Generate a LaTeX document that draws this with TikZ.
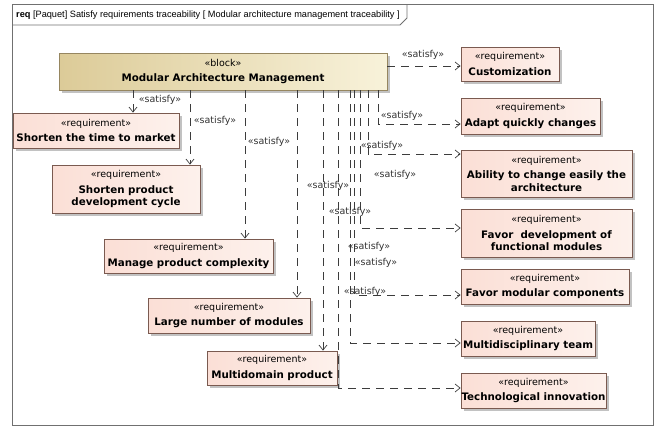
\documentclass[tikz,border=0pt]{standalone}
\usepackage{fontspec}
\setmainfont{DejaVu Sans}
\newfontfamily\titlefont{Liberation Sans}
\usetikzlibrary{arrows.meta,shadows}
\definecolor{reqL}{HTML}{FBDFD6}
\definecolor{reqR}{HTML}{FDF1EC}
\definecolor{reqB}{HTML}{7A5A50}
\definecolor{blkL}{HTML}{DCCB98}
\definecolor{blkR}{HTML}{F8F2DA}
\definecolor{blkB}{HTML}{968660}
\definecolor{lineC}{HTML}{3C3C3C}
\definecolor{frameC}{HTML}{707070}
\newcommand\stereo[1]{{\fontsize{9.5}{11}\selectfont«#1»}}
\begin{document}
\begin{tikzpicture}[x=1pt,y=-1pt,
 box/.style={inner sep=0pt, align=center, font=\fontsize{10.3}{12.5}\selectfont,
   drop shadow={shadow xshift=2.5pt, shadow yshift=-2.5pt, fill=black!40, opacity=.6}},
 reqbox/.style={box, draw=reqB, line width=.8pt, left color=reqL, right color=reqR},
 blockbox/.style={box, draw=blkB, line width=.8pt, left color=blkL, right color=blkR},
 sat/.style={draw=lineC, line width=.7pt, dash pattern=on 8pt off 6pt,
   -{Straight Barb[length=5pt,width=8pt]}},
 lbl/.style={font=\fontsize{9.5}{11}\selectfont, text=black!80, inner sep=0pt},
 framestyle/.style={draw=frameC, line width=.8pt},
]
\useasboundingbox (0,0) rectangle (656,429);
% frame
\draw[framestyle] (12,4) rectangle (653,425);
\draw[framestyle] (12,25) -- (400,25) -- (407,18) -- (407,4);
\node[anchor=west, inner sep=0pt, font=\titlefont\fontsize{9.2}{11}\selectfont] (title) at (16,15)
 {\textbf{req} [Paquet] Satisfy requirements traceability [ Modular architecture management traceability ]};
% block
\node[blockbox, minimum width=328pt, minimum height=37pt] (block) at (223,71.5)
 {\stereo{block}\\[3pt]\textbf{Modular Architecture Management}};
% requirements right
\node[reqbox, minimum width=98pt, minimum height=34pt] (cust) at (510,64)
 {\stereo{requirement}\\[3pt]\textbf{Customization}};
\node[reqbox, minimum width=139pt, minimum height=36pt] (adapt) at (530.5,116)
 {\stereo{requirement}\\[3pt]\textbf{Adapt quickly changes}};
\node[reqbox, minimum width=171pt, minimum height=47pt] (abil) at (546.5,173.5)
 {\stereo{requirement}\\[3pt]\textbf{Ability to change easily the}\\\textbf{architecture}};
\node[reqbox, minimum width=171pt, minimum height=48pt] (favdev) at (546.5,233)
 {\stereo{requirement}\\[3pt]\textbf{Favor\ \ development of}\\\textbf{functional modules}};
\node[reqbox, minimum width=168pt, minimum height=35pt] (favmod) at (545,286.5)
 {\stereo{requirement}\\[3pt]\textbf{Favor modular components}};
\node[reqbox, minimum width=134pt, minimum height=35pt] (multi) at (528,338.5)
 {\stereo{requirement}\\[3pt]\textbf{Multidisciplinary team}};
\node[reqbox, minimum width=145pt, minimum height=35pt] (tech) at (533.5,390.5)
 {\stereo{requirement}\\[3pt]\textbf{Technological innovation}};
% requirements left
\node[reqbox, minimum width=166pt, minimum height=35pt] (short) at (96,130.5)
 {\stereo{requirement}\\[3pt]\textbf{Shorten the time to market}};
\node[reqbox, minimum width=148pt, minimum height=48pt] (cycle) at (126,189)
 {\stereo{requirement}\\[3pt]\textbf{Shorten product}\\\textbf{development cycle}};
\node[reqbox, minimum width=169pt, minimum height=34pt] (manage) at (188.5,256)
 {\stereo{requirement}\\[3pt]\textbf{Manage product complexity}};
\node[reqbox, minimum width=162pt, minimum height=35pt] (large) at (229,315.5)
 {\stereo{requirement}\\[3pt]\textbf{Large number of modules}};
\node[reqbox, minimum width=130pt, minimum height=34pt] (domain) at (272,368)
 {\stereo{requirement}\\[3pt]\textbf{Multidomain product}};
% connector routing points
\coordinate (c1) at (400,66);
\coordinate (v1) at (133,0);
\coordinate (v2) at (190,0);
\coordinate (v3) at (245,0);
\coordinate (v4) at (297,0);
\coordinate (v5) at (323,0);
\coordinate (t1) at (378,124);
\coordinate (t2) at (368,154);
\coordinate (t3) at (360,228);
\coordinate (t4) at (354,295);
\coordinate (t5) at (350,343);
\coordinate (t6) at (338,388);
% connectors
\draw[sat] (block.east |- c1) -- (cust.west |- c1);
\draw[sat] (block.south -| v1) -- (short.north -| v1);
\draw[sat] (block.south -| v2) -- (cycle.north -| v2);
\draw[sat] (block.south -| v3) -- (manage.north -| v3);
\draw[sat] (block.south -| v4) -- (large.north -| v4);
\draw[sat] (block.south -| v5) -- (domain.north -| v5);
\draw[sat] (block.south -| t1) |- (adapt.west |- t1);
\draw[sat] (block.south -| t2) |- (abil.west |- t2);
\draw[sat] (block.south -| t3) |- (favdev.west |- t3);
\draw[sat] (block.south -| t4) |- (favmod.west |- t4);
\draw[sat] (block.south -| t5) |- (multi.west |- t5);
\draw[sat] (block.south -| t6) |- (tech.west |- t6);
% labels
\node[lbl] (l1) at (423,55) {«satisfy»};
\node[lbl] (l2) at (160,100) {«satisfy»};
\node[lbl] (l3) at (215,121) {«satisfy»};
\node[lbl] (l4) at (269,142) {«satisfy»};
\node[lbl] (l5) at (402,116) {«satisfy»};
\node[lbl] (l6) at (382,146) {«satisfy»};
\node[lbl] (l7) at (395,175) {«satisfy»};
\node[lbl] (l8) at (328,186) {«satisfy»};
\node[lbl] (l9) at (350,212) {«satisfy»};
\node[lbl] (l10) at (369,247) {«satisfy»};
\node[lbl] (l11) at (376,263) {«satisfy»};
\node[lbl] (l12) at (365,292) {«satisfy»};
\end{tikzpicture}
\end{document}
